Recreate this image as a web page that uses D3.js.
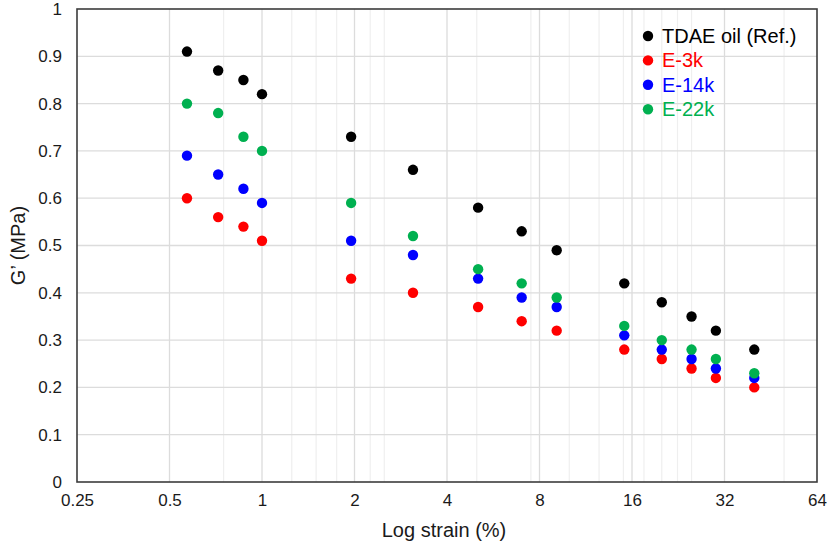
<!DOCTYPE html>
<html><head><meta charset="utf-8">
<script src="https://cdn.jsdelivr.net/npm/d3@7"></script>
<style>html,body{margin:0;padding:0;background:#fff;}svg{display:block;font-family:"Liberation Sans",Arial,sans-serif;}</style>
</head><body><svg id="c" width="827" height="543"></svg>
<script>
const strain = [0.57, 0.72, 0.87, 1.0, 1.95, 3.1, 5.05, 7.0, 9.1, 15.1, 20, 25, 30, 40];
const tdae  = [0.91, 0.87, 0.85, 0.82, 0.73, 0.66, 0.58, 0.53, 0.49, 0.42, 0.38, 0.35, 0.32, 0.28];
const e3k   = [0.60, 0.56, 0.54, 0.51, 0.43, 0.40, 0.37, 0.34, 0.32, 0.28, 0.26, 0.24, 0.22, 0.20];
const e14k  = [0.69, 0.65, 0.62, 0.59, 0.51, 0.48, 0.43, 0.39, 0.37, 0.31, 0.28, 0.26, 0.24, 0.22];
const e22k  = [0.80, 0.78, 0.73, 0.70, 0.59, 0.52, 0.45, 0.42, 0.39, 0.33, 0.30, 0.28, 0.26, 0.23];
const seriesNames = ["TDAE oil (Ref.)", "E-3k", "E-14k", "E-22k"];
const seriesColors = ["#000000", "#ff0000", "#0000ff", "#00b050"];
const xTicks = [0.25, 0.5, 1, 2, 4, 8, 16, 32, 64];
const xTickLabels = ["0.25", "0.5", "1", "2", "4", "8", "16", "32", "64"];
const xMinor = [0.75, 1.25, 1.5, 1.75, 2.25, 2.5, 5, 7.5, 10, 12.5, 15, 17.5, 20, 22.5, 25, 50];
const yTicks = [0, 0.1, 0.2, 0.3, 0.4, 0.5, 0.6, 0.7, 0.8, 0.9, 1];
const yTickLabels = ["0", "0.1", "0.2", "0.3", "0.4", "0.5", "0.6", "0.7", "0.8", "0.9", "1"];

const svg = d3.select("#c");
const L = 77, R = 817, T = 9, B = 482;
const x = d3.scaleLog().base(2).domain([0.25, 64]).range([L, R]);
const y = d3.scaleLinear().domain([0, 1]).range([B, T]);

const g = svg.append("g");
g.selectAll(".mv").data(xMinor).join("line")
  .attr("x1", d => x(d)).attr("x2", d => x(d)).attr("y1", T).attr("y2", B)
  .attr("stroke", "#efefef").attr("stroke-width", 1.2);
g.selectAll(".Mv").data(xTicks.slice(1, -1)).join("line")
  .attr("x1", d => x(d)).attr("x2", d => x(d)).attr("y1", T).attr("y2", B)
  .attr("stroke", "#dcdcdc").attr("stroke-width", 1.3);
g.selectAll(".h").data(yTicks.slice(1, -1)).join("line")
  .attr("x1", L).attr("x2", R).attr("y1", d => y(d)).attr("y2", d => y(d))
  .attr("stroke", "#dcdcdc").attr("stroke-width", 1.3);

const xAxis = d3.axisBottom(x).tickValues(xTicks).tickFormat((d, i) => xTickLabels[i]).tickSize(0).tickPadding(12);
const gx = svg.append("g").attr("transform", `translate(0,${B})`).call(xAxis);
gx.select(".domain").remove();
gx.selectAll("text").attr("font-size", 17).attr("fill", "#1a1a1a").attr("font-family", "Liberation Sans, Arial, sans-serif");

const yAxis = d3.axisLeft(y).tickValues(yTicks).tickFormat((d, i) => yTickLabels[i]).tickSize(0).tickPadding(15);
const gy = svg.append("g").attr("transform", `translate(${L},0)`).call(yAxis);
gy.select(".domain").remove();
gy.selectAll("text").attr("font-size", 17).attr("fill", "#1a1a1a").attr("font-family", "Liberation Sans, Arial, sans-serif");

svg.append("rect").attr("x", L).attr("y", T).attr("width", R - L).attr("height", B - T)
  .attr("fill", "none").attr("stroke", "#3c3c3c").attr("stroke-width", 1.6);

const allSeries = [tdae, e3k, e14k, e22k];
allSeries.forEach((vals, si) => {
  svg.append("g").selectAll("circle").data(vals).join("circle")
    .attr("cx", (d, i) => x(strain[i])).attr("cy", d => y(d)).attr("r", 5.2)
    .attr("fill", seriesColors[si]);
});

svg.append("text").attr("x", (L + R) / 2 - 3).attr("y", 537).attr("text-anchor", "middle")
  .attr("font-size", 20).attr("fill", "#1a1a1a").text("Log strain (%)");
svg.append("text").attr("transform", `translate(25,${(T + B) / 2}) rotate(-90)`).attr("text-anchor", "middle")
  .attr("font-size", 20).attr("fill", "#1a1a1a").text("G’ (MPa)");

const lg = svg.append("g");
seriesNames.forEach((name, i) => {
  const yy = 36 + i * 24.4;
  lg.append("circle").attr("cx", 648).attr("cy", yy).attr("r", 5.2).attr("fill", seriesColors[i]);
  lg.append("text").attr("x", 662).attr("y", yy).attr("dy", "0.35em").attr("font-size", 20)
    .attr("fill", i === 0 ? "#000" : seriesColors[i]).text(name);
});
</script></body></html>
